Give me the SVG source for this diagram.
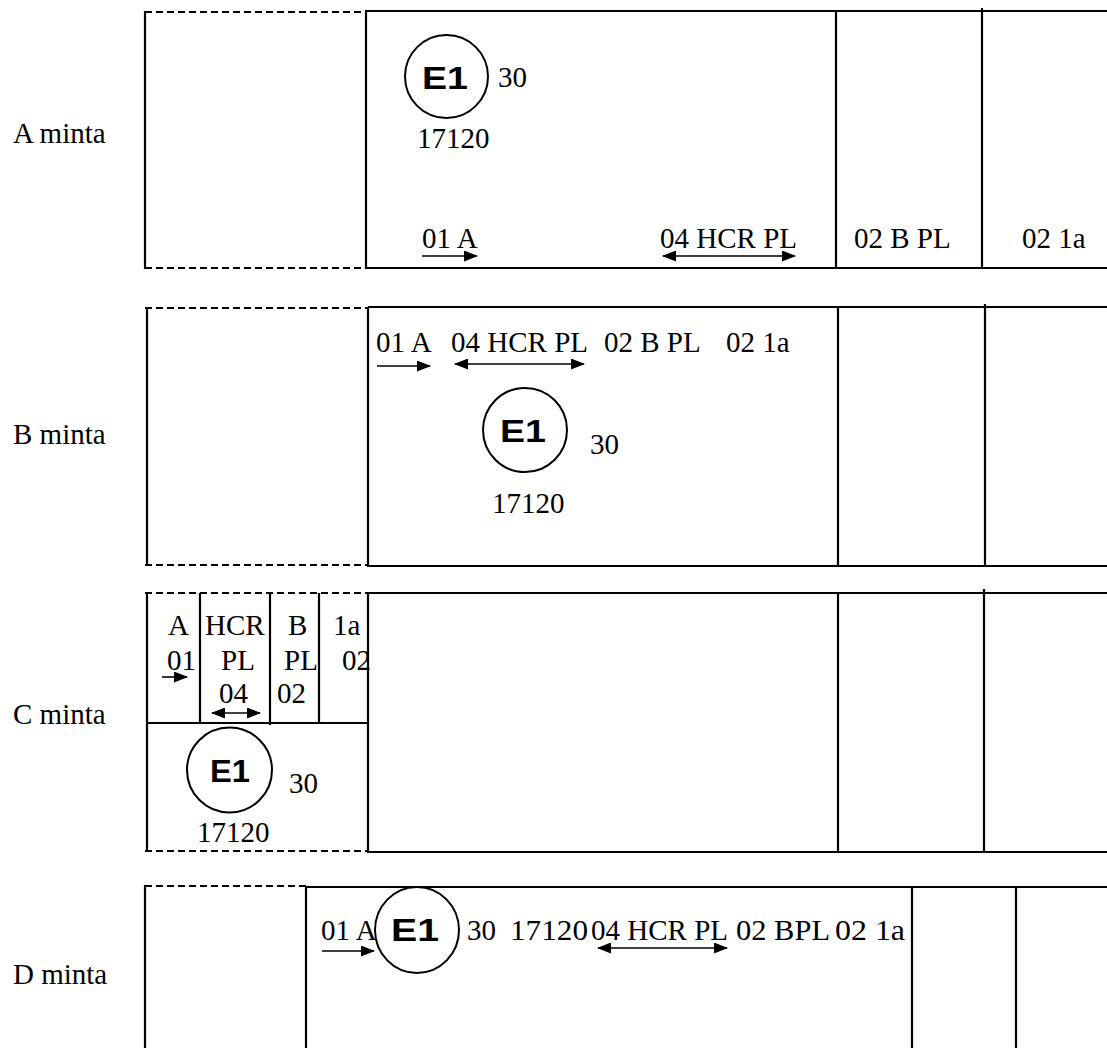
<svg xmlns="http://www.w3.org/2000/svg" width="1107" height="1048" viewBox="0 0 1107 1048">
<defs>
<marker id="ah" markerUnits="userSpaceOnUse" markerWidth="14" markerHeight="12" refX="13" refY="5.5" orient="auto">
<path d="M0,0 L14,5.5 L0,11 Z" fill="#000"/>
</marker>
<marker id="ahs" markerUnits="userSpaceOnUse" markerWidth="14" markerHeight="12" refX="1" refY="5.5" orient="auto">
<path d="M14,0 L0,5.5 L14,11 Z" fill="#000"/>
</marker>
<style>
.t{font-family:"Liberation Serif","Times New Roman",serif;font-size:29px;fill:#000}
.e{font-family:"Liberation Sans",Arial,sans-serif;font-size:31px;font-weight:bold;fill:#000}
.s{stroke:#000;stroke-width:2.2;fill:none}
.d{stroke:#000;stroke-width:2.2;fill:none;stroke-dasharray:7,4}
.c{stroke:#000;stroke-width:2;fill:#fff}
.a{stroke:#000;stroke-width:1.6;fill:none}
</style>
</defs>
<rect width="1107" height="1048" fill="#fff"/>

<!-- Row A -->
<g id="rowA">
<text class="t" x="13" y="143">A minta</text>
<path class="d" d="M145,12 H366 M145,268 H366"/>
<path class="s" d="M145,11 V269"/>
<path class="s" d="M366,11 H1107 M366,268 H1107 M366,10 V269 M836,10 V269 M982,8 V269"/>
<g id="sealA">
<circle class="c" cx="446.5" cy="76.5" r="41.5"/>
<text class="e" x="445" y="89" text-anchor="middle" textLength="46" lengthAdjust="spacingAndGlyphs">E1</text>
<text class="t" x="498" y="87">30</text>
<text class="t" x="417" y="148">17120</text>
</g>
<text class="t" x="422" y="248">01 A</text>
<text class="t" x="660" y="248">04 HCR PL</text>
<text class="t" x="854" y="248">02 B PL</text>
<text class="t" x="1022" y="248">02 1a</text>
</g>

<!-- Row B -->
<g id="rowB">
<text class="t" x="13" y="444">B minta</text>
<path class="d" d="M145,308 H368 M145,565 H368"/>
<path class="s" d="M147,307 V566"/>
<path class="s" d="M368,307 H1107 M368,566 H1107 M368,307 V567 M838,307 V567 M985,304 V567"/>
<text class="t" x="376" y="352">01 A</text>
<text class="t" x="451" y="352">04 HCR PL</text>
<text class="t" x="604" y="352">02 B PL</text>
<text class="t" x="726" y="352">02 1a</text>
<g id="sealB">
<circle class="c" cx="525" cy="430" r="42"/>
<text class="e" x="523" y="442" text-anchor="middle" textLength="46" lengthAdjust="spacingAndGlyphs">E1</text>
<text class="t" x="590" y="454">30</text>
<text class="t" x="492" y="513">17120</text>
</g>
</g>

<!-- Row C -->
<g id="rowC">
<text class="t" x="13" y="724">C minta</text>
<path class="d" d="M145,593 H368 M145,851 H368"/>
<path class="s" d="M147,592 V852"/>
<path class="s" d="M147,723 H368 M200,593 V723 M270,593 V725 M319,593 V723"/>
<path class="s" d="M368,593 H1107 M368,852 H1107 M368,592 V853 M838,592 V853 M984,589 V853"/>
<text class="t" x="168" y="635">A</text>
<text class="t" x="205" y="635">HCR</text>
<text class="t" x="288" y="635">B</text>
<text class="t" x="333" y="635">1a</text>
<text class="t" x="167" y="670">01</text>
<text class="t" x="221" y="670">PL</text>
<text class="t" x="284" y="670">PL</text>
<text class="t" x="342" y="670">02</text>
<text class="t" x="219" y="703">04</text>
<text class="t" x="277" y="703">02</text>
<g id="sealC">
<circle class="c" cx="229.5" cy="770" r="42.5"/>
<text class="e" x="230" y="782" text-anchor="middle" textLength="40" lengthAdjust="spacingAndGlyphs">E1</text>
<text class="t" x="289" y="793">30</text>
<text class="t" x="197" y="842">17120</text>
</g>
</g>

<!-- Row D -->
<g id="rowD">
<text class="t" x="13" y="984">D minta</text>
<path class="d" d="M145,886 H306"/>
<path class="s" d="M145,885 V1048"/>
<path class="s" d="M306,887 H1107 M306,886 V1048 M912,886 V1048 M1016,886 V1048"/>
<text class="t" x="321" y="940">01 A</text>
<g id="sealD">
<ellipse class="c" cx="417" cy="930" rx="42" ry="43"/>
<text class="e" x="415" y="941" text-anchor="middle" textLength="48" lengthAdjust="spacingAndGlyphs">E1</text>
</g>
<text class="t" x="467" y="940">30</text>
<text class="t" x="510" y="940" textLength="78" lengthAdjust="spacingAndGlyphs">17120</text>
<text class="t" x="591" y="940">04 HCR PL</text>
<text class="t" x="736" y="940" textLength="94" lengthAdjust="spacingAndGlyphs">02 BPL</text>
<text class="t" x="835" y="940" textLength="70" lengthAdjust="spacingAndGlyphs">02 1a</text>
</g>

<!-- Connectors (arrows) -->
<g id="connectors">
<line class="a" x1="422" y1="256" x2="477" y2="256" marker-end="url(#ah)"/>
<line class="a" x1="663" y1="256" x2="795" y2="256" marker-start="url(#ahs)" marker-end="url(#ah)"/>
<line class="a" x1="377" y1="366" x2="430" y2="366" marker-end="url(#ah)"/>
<line class="a" x1="455" y1="364" x2="584" y2="364" marker-start="url(#ahs)" marker-end="url(#ah)"/>
<line class="a" x1="162" y1="677" x2="187" y2="677" marker-end="url(#ah)"/>
<line class="a" x1="212" y1="713" x2="260" y2="713" marker-start="url(#ahs)" marker-end="url(#ah)"/>
<line class="a" x1="322" y1="951" x2="374" y2="951" marker-end="url(#ah)"/>
<line class="a" x1="598" y1="948" x2="727" y2="948" marker-start="url(#ahs)" marker-end="url(#ah)"/>
</g>
</svg>
